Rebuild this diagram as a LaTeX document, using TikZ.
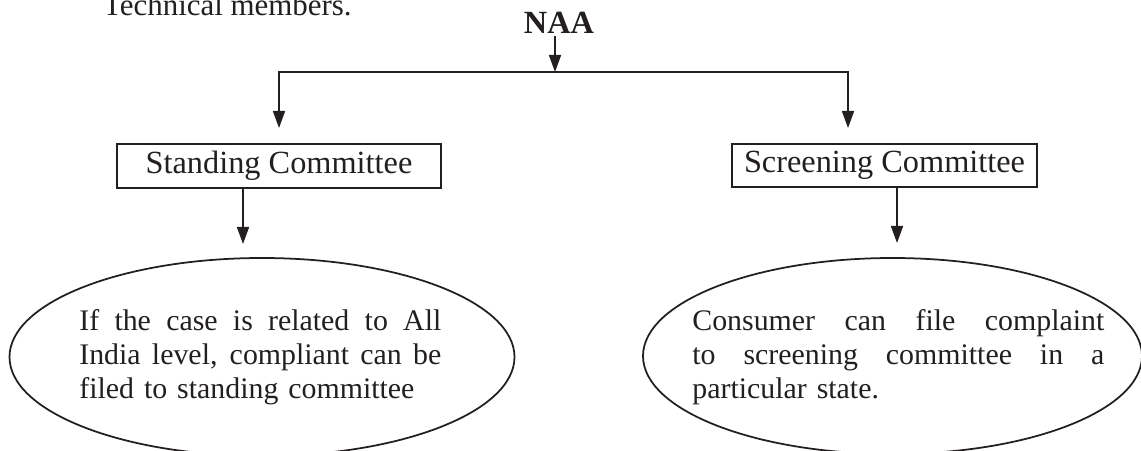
\documentclass[tikz,border=0pt]{standalone}
\usepackage{fontspec}
\setmainfont{Liberation Serif}
\usetikzlibrary{shapes.geometric,arrows.meta}
\newlength\pxu
\setlength\pxu{0.02cm}
\newcommand\jl[2]{\makebox[#1\pxu][s]{\spaceskip=0.25em plus 1fil\xspaceskip=0.3em plus 1fil #2}}
\newcommand\lastln[2]{\makebox[#1\pxu][l]{#2}}
\definecolor{ink}{RGB}{35,31,32}
\begin{document}
\begin{tikzpicture}[x=0.02cm,y=-0.02cm,
  every node/.style={text=ink},
  txt/.style={font={\fontsize{18.4}{19.35}\selectfont}},
  ovaltxt/.style={font={\fontsize{17}{19.35}\selectfont}},
  boldtxt/.style={font={\fontsize{18.4}{22}\selectfont\bfseries}},
  boxnode/.style={draw=ink, line width=1.1pt, inner sep=0pt, txt},
  oval/.style={draw=ink, ellipse, line width=1pt, inner sep=0pt},
  tipend/.tip={Triangle[length=9.7pt,width=6.8pt]},
  arr/.style={draw=ink, line width=1.1pt, line join=miter, -tipend},
  darr/.style={draw=ink, line width=1.1pt, line join=miter, tipend-tipend}]
\useasboundingbox (0,0) rectangle (1141,450);
\clip (0,0) rectangle (1141,450);

% cropped text at the top
\node[ovaltxt, font={\fontsize{17.6}{19.35}\selectfont}, anchor=base east, inner sep=0pt] (tech) at (352,15) {Technical members.};

% root
\node[boldtxt, anchor=base, inner sep=1.7pt] (naa) at (559,33) {NAA};
\coordinate (split) at (555,72);
\coordinate (lc) at (279,72);
\coordinate (rc) at (848,72);
\coordinate (lt) at (279,128);
\coordinate (rt) at (848,128);
\draw[arr] (naa.south -| split) -- (split);
\draw[darr] (lt) -- (lc) -- (rc) -- (rt);

% committees
\node[boxnode, minimum width=324\pxu, minimum height=44\pxu] (stand) at (279,166) {Standing Committee};
\node[boxnode, minimum width=305\pxu, minimum height=43\pxu] (screen) at (884.5,165.5) {Screening Committee};

\coordinate (st) at (243,244);
\coordinate (sr) at (897,243);
\draw[arr] (stand.south -| st) -- (st);
\draw[arr] (screen.south -| sr) -- (sr);

% ellipses
\node[oval, minimum width=505\pxu, minimum height=198\pxu] (lov) at (262,357) {};
\node[oval, minimum width=499\pxu, minimum height=196\pxu] (rov) at (892.5,356) {};

\node[ovaltxt, text width=362\pxu, align=left, anchor=base west, inner sep=0pt] (ltext) at (79,330)
  {\jl{362}{If the case is related to All}\\
   \jl{362}{India level, compliant can be}\\
   \lastln{362}{filed to standing committee}};
\node[ovaltxt, text width=412\pxu, align=left, anchor=base west, inner sep=0pt] (rtext) at (692,330)
  {\jl{412}{Consumer can file complaint}\\
   \jl{412}{to screening committee in a}\\
   \lastln{412}{particular state.}};
\end{tikzpicture}
\end{document}
